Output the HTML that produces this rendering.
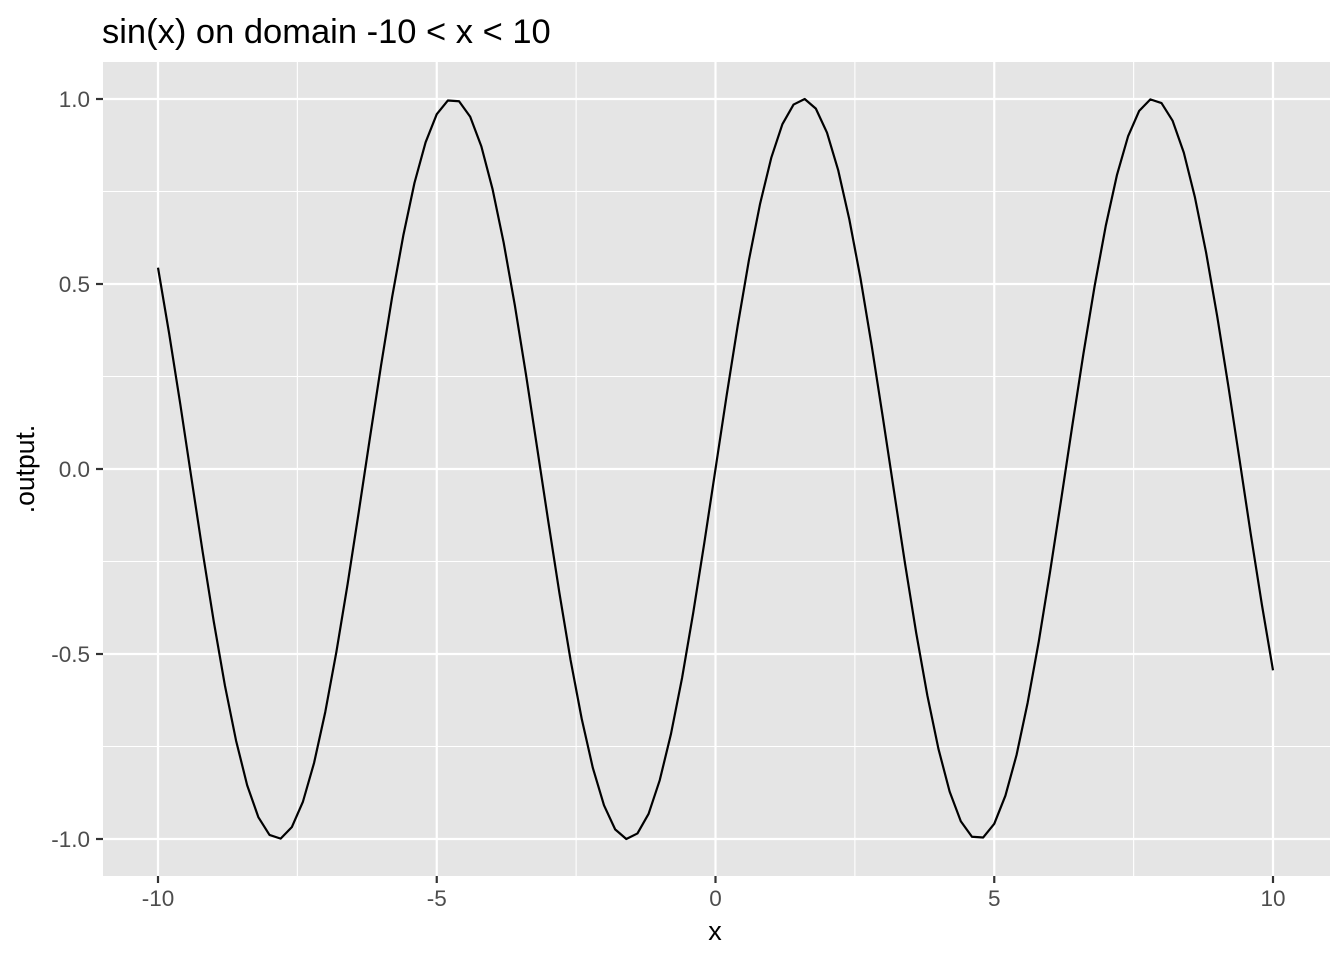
<!DOCTYPE html>
<html><head><meta charset="utf-8">
<style>
html,body{margin:0;padding:0;background:#fff;}
svg{display:block;font-family:"Liberation Sans",Arial,sans-serif;}
</style></head>
<body>
<svg id="chart" width="1344" height="960">
  <text x="102" y="43" font-size="34.5" fill="#000">sin(x) on domain -10 &lt; x &lt; 10</text>
  <rect x="103" y="62" width="1227" height="814" fill="#e5e5e5"/>
  <g id="grid"></g>
  <g id="ticks"></g>
  <path id="line" fill="none" stroke="#000" stroke-width="2.2" stroke-linejoin="round"/>
  <text x="715" y="940" font-size="27" text-anchor="middle" fill="#000">x</text>
  <text transform="translate(34,469) rotate(-90)" font-size="26.5" text-anchor="middle" fill="#000">.output.</text>
</svg>
<script>
const xTicks = [-10, -5, 0, 5, 10];
const xTickLabels = ["-10", "-5", "0", "5", "10"];
const xMinor = [-7.5, -2.5, 2.5, 7.5];
const yTicks = [-1, -0.5, 0, 0.5, 1];
const yTickLabels = ["-1.0", "-0.5", "0.0", "0.5", "1.0"];
const yMinor = [-0.75, -0.25, 0.25, 0.75];
const xStart = -10, xStep = 0.2;
const yValues = [0.544,0.366,0.175,-0.025,-0.223,-0.412,-0.585,-0.734,-0.855,-0.941,-0.989,-0.999,-0.968,-0.899,-0.794,-0.657,-0.494,-0.312,-0.117,0.083,0.279,0.465,0.631,0.773,0.883,0.959,0.996,0.994,0.952,0.872,0.757,0.612,0.443,0.256,0.058,-0.141,-0.335,-0.516,-0.675,-0.808,-0.909,-0.974,-1.000,-0.985,-0.932,-0.841,-0.717,-0.565,-0.389,-0.199,0,0.199,0.389,0.565,0.717,0.841,0.932,0.985,1.000,0.974,0.909,0.808,0.675,0.516,0.335,0.141,-0.058,-0.256,-0.443,-0.612,-0.757,-0.872,-0.952,-0.994,-0.996,-0.959,-0.883,-0.773,-0.631,-0.465,-0.279,-0.083,0.117,0.312,0.494,0.657,0.794,0.899,0.968,0.999,0.989,0.941,0.855,0.734,0.585,0.412,0.223,0.025,-0.175,-0.366,-0.544];

const NS = "http://www.w3.org/2000/svg";
const px0 = 103, px1 = 1330, py0 = 62, py1 = 876;
function sx(v){ return 158 + (v + 10) * (1273 - 158) / 20; }
function sy(v){ return 469 - v * 370; }
const grid = document.getElementById('grid');
const ticks = document.getElementById('ticks');
function mk(tag, attrs, parent){ const e = document.createElementNS(NS, tag); for (const k in attrs) e.setAttribute(k, attrs[k]); parent.appendChild(e); return e; }

yMinor.forEach(v => {
  const l = mk('line', {x1:px0, x2:px1, y1:sy(v), y2:sy(v), stroke:'#fff', 'stroke-width':1.1}, grid);
  
  
});
xMinor.forEach(v => {
  const l = mk('line', {x1:sx(v), x2:sx(v), y1:py0, y2:py1, stroke:'#fff', 'stroke-width':1.1}, grid);
  
  
});
yTicks.forEach((v, i) => {
  const l = mk('line', {x1:px0, x2:px1, y1:sy(v), y2:sy(v), stroke:'#fff', 'stroke-width':2.2}, grid);
  
  
  const t = mk('line', {x1:px0-7, x2:px0, y1:sy(v), y2:sy(v), stroke:'#333', 'stroke-width':2.2}, ticks);
  
  
  const tx = mk('text', {x:px0-13, y:sy(v)+8, 'font-size':22.5, 'text-anchor':'end', fill:'#4d4d4d'}, ticks);
  tx.textContent = yTickLabels[i];
  
  
});
xTicks.forEach((v, i) => {
  const l = mk('line', {x1:sx(v), x2:sx(v), y1:py0, y2:py1, stroke:'#fff', 'stroke-width':2.2}, grid);
  
  
  const t = mk('line', {x1:sx(v), x2:sx(v), y1:py1, y2:py1+7, stroke:'#333', 'stroke-width':2.2}, ticks);
  
  
  const tx = mk('text', {x:sx(v), y:py1+30, 'font-size':22.5, 'text-anchor':'middle', fill:'#4d4d4d'}, ticks);
  tx.textContent = xTickLabels[i];
  
  
});
let d = '';
yValues.forEach((v, i) => {
  const x = xStart + i * xStep;
  d += (i ? 'L' : 'M') + sx(x).toFixed(2) + ',' + sy(v).toFixed(2);
});
document.getElementById('line').setAttribute('d', d);
</script>
</body></html>
